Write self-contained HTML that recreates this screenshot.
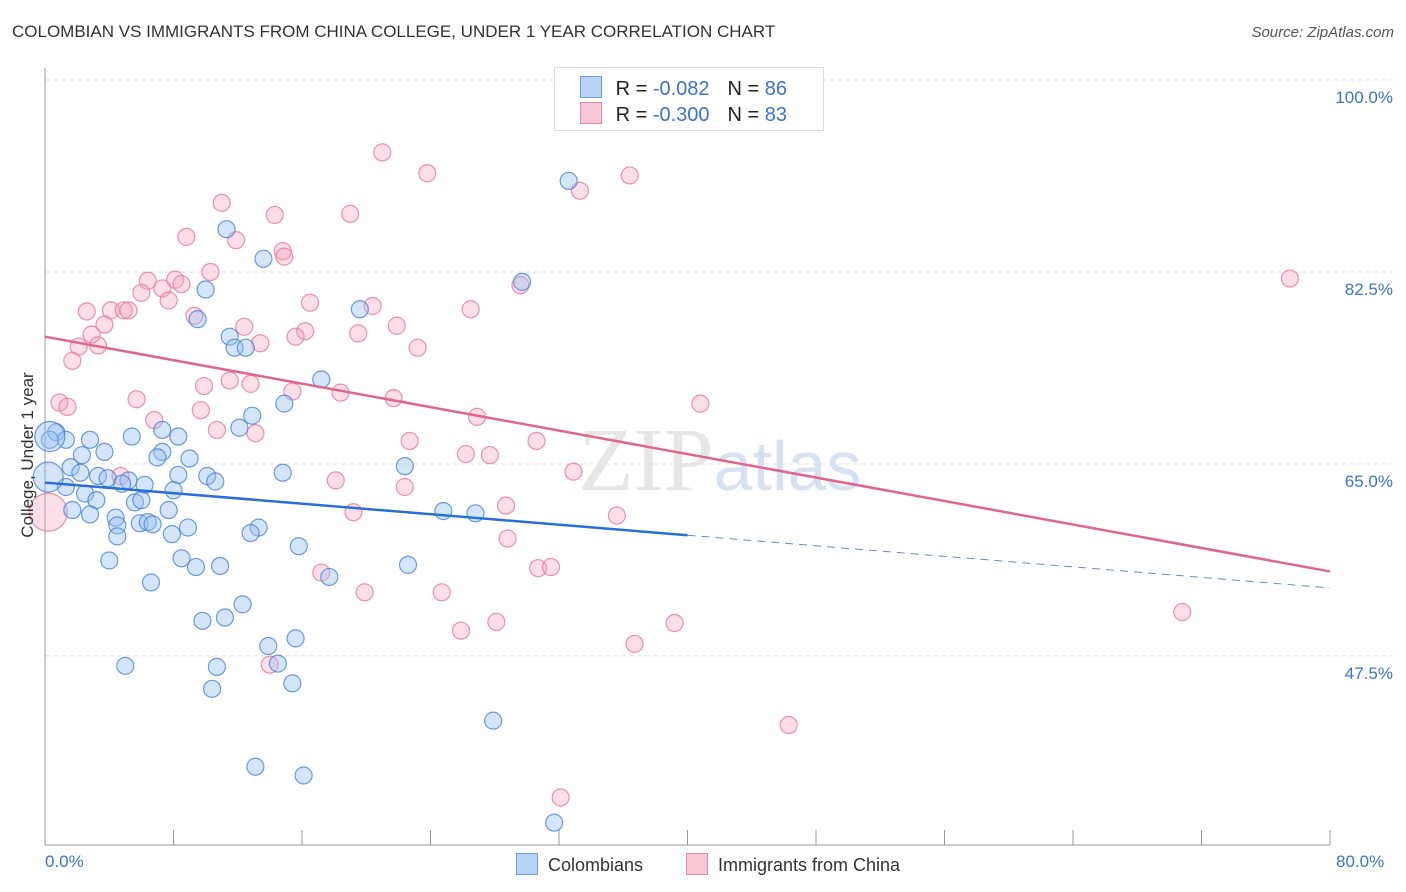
<!DOCTYPE html>
<html><head><meta charset="utf-8">
<style>
body{margin:0;background:#fff;font-family:"Liberation Sans",sans-serif;}
#wrap{position:relative;width:1406px;height:892px;overflow:hidden;}
.t{position:absolute;white-space:nowrap;}
</style></head>
<body>
<div id="wrap">
<div class="t" style="left:12px;top:22px;font-size:17px;color:#333;">COLOMBIAN VS IMMIGRANTS FROM CHINA COLLEGE, UNDER 1 YEAR CORRELATION CHART</div>
<div class="t" style="right:12px;top:24px;font-size:15px;color:#555;font-style:italic;">Source: ZipAtlas.com</div>
<svg id="svg" width="1406" height="892" style="position:absolute;left:0;top:0"></svg>
</div>
<script>
const blueX=[32.6,11.3,13.6,29.7,10.0,19.6,9.5,11.5,11.8,12.5,17.2,14.9,12.9,12.1,5.4,8.3,7.3,0.7,1.3,2.8,0.3,3.7,7.3,7.0,9.0,2.3,22.4,14.8,1.6,2.2,3.3,3.9,5.2,8.3,10.1,10.6,4.8,6.2,8.0,1.3,2.5,3.2,5.6,6.0,1.7,2.8,4.4,7.7,24.8,26.8,4.5,5.9,6.4,6.7,8.9,13.3,12.8,4.5,7.9,15.8,4.0,8.5,9.4,10.9,22.6,17.7,6.6,12.3,11.2,9.8,15.6,13.9,14.5,5.0,10.7,15.4,10.4,27.9,13.1,16.1,31.7,0.2,0.3];
const blueY=[90.8,86.4,83.7,81.6,80.9,79.1,78.2,76.6,75.6,75.6,72.7,70.5,69.4,68.3,67.5,67.5,68.1,67.9,67.2,67.2,67.2,66.1,66.1,65.6,65.5,65.8,64.8,64.2,64.7,64.2,63.9,63.7,63.5,64.0,63.9,63.4,63.2,63.1,62.6,62.9,62.3,61.7,61.5,61.7,60.8,60.4,60.1,60.8,60.7,60.5,59.4,59.6,59.7,59.5,59.2,59.2,58.7,58.4,58.6,57.5,56.2,56.4,55.6,55.7,55.8,54.7,54.2,52.2,51.0,50.7,49.1,48.4,46.8,46.6,46.5,45.0,44.5,41.6,37.4,36.6,32.3,63.8,67.5];
const pinkX=[21.0,23.8,36.4,33.3,11.0,14.3,19.0,8.8,11.9,14.8,14.9,10.3,6.4,8.1,6.0,7.3,8.5,77.5,29.6,7.7,16.5,20.4,26.5,2.6,4.1,4.9,5.2,9.3,3.7,12.4,21.9,19.5,16.2,15.6,2.9,13.4,3.3,2.1,23.2,1.7,11.5,9.9,12.8,15.4,18.4,21.7,5.7,0.9,1.4,9.7,40.8,6.8,26.9,10.7,13.1,22.7,30.6,26.2,27.7,32.9,4.7,18.1,22.4,28.7,19.2,35.6,28.8,17.2,30.7,31.5,19.9,24.7,25.9,28.1,39.2,36.7,14.0,70.8,46.3,32.1,0.2];
const pinkY=[93.4,91.5,91.3,89.9,88.8,87.7,87.8,85.7,85.4,84.4,83.9,82.5,81.7,81.8,80.6,81.0,81.4,81.9,81.3,79.9,79.7,79.4,79.1,78.9,79.0,79.0,79.0,78.5,77.7,77.5,77.6,76.9,77.1,76.6,76.8,76.0,75.8,75.7,75.6,74.4,72.6,72.1,72.3,71.6,71.5,71.0,70.9,70.6,70.2,69.9,70.5,69.0,69.3,68.1,67.8,67.1,67.1,65.9,65.8,64.3,63.9,63.5,62.9,61.2,60.6,60.3,58.2,55.1,55.5,55.6,53.3,53.3,49.8,50.6,50.5,48.6,46.7,51.5,41.2,34.6,60.6];
const blueTrend=[63.3,53.7]; // y at x=0 and x=80
const blueSolidEnd=40;
const pinkTrend=[76.6,55.2];
const yTicks=[47.5,65.0,82.5,100.0];
const xTickCount=10;

const svg=document.getElementById('svg');
const NS='http://www.w3.org/2000/svg';
const X=v=>45+v/80*1285;
const Y=v=>80+(100-v)*10.97;
function mk(tag,attrs,parent){const e=document.createElementNS(NS,tag);for(const k in attrs)e.setAttribute(k,attrs[k]);(parent||svg).appendChild(e);return e;}

// gridlines
yTicks.forEach(t=>{
  const l=mk('line',{x1:45,x2:1393,y1:Y(t),y2:Y(t),stroke:'#ddd','stroke-dasharray':'4,4'});
  
  
  const tx=mk('text',{x:1393,y:Y(t)+23,'text-anchor':'end',fill:'#3b73d4','font-size':17,'font-family':'Liberation Sans, sans-serif'});
  tx.textContent=t.toFixed(1)+'%';
  
  
});
// axes
const ax=mk('line',{x1:45,x2:45,y1:68,y2:845,stroke:'#999'});


const axx=mk('line',{x1:45,x2:1330,y1:845,y2:845,stroke:'#999'});


for(let i=0;i<=xTickCount;i++){
  const tk=mk('line',{x1:X(i*8),x2:X(i*8),y1:830,y2:845,stroke:'#999'});
  
  
}
// watermark
const wm=mk('text',{x:720,y:490,'text-anchor':'middle','font-size':90,fill:'#e6e6e6','font-family':'Liberation Serif, serif'});
wm.innerHTML='ZIP<tspan fill="#d6e2f3" font-family="Liberation Sans, sans-serif" font-size="70">atlas</tspan>';



function pts(xs,ys,fill,stroke,name){
  xs.forEach((x,i)=>{
    const big=(i>=xs.length-2&&name==='colombian-point')||(i===xs.length-1&&name==='china-point');
    const c=mk('circle',{cx:X(x),cy:Y(ys[i]),r:big?(name==='china-point'?19:15):8.5,fill:fill,stroke:stroke,'stroke-width':1.2});
    
    
  });
}
pts(pinkX,pinkY,'rgba(244,160,185,0.35)','rgba(230,120,155,0.8)','china-point');
pts(blueX,blueY,'rgba(150,190,240,0.4)','rgba(70,130,220,0.8)','colombian-point');

// trends
const bAt=x=>blueTrend[0]+(blueTrend[1]-blueTrend[0])*x/80;
const bl=mk('line',{x1:X(0),y1:Y(bAt(0)),x2:X(blueSolidEnd),y2:Y(bAt(blueSolidEnd)),stroke:'#2a6fd6','stroke-width':2.5});


const bd=mk('line',{x1:X(blueSolidEnd),y1:Y(bAt(blueSolidEnd)),x2:X(80),y2:Y(bAt(80)),stroke:'#5b8fd9','stroke-width':1,'stroke-dasharray':'8,6'});


const pl=mk('line',{x1:X(0),y1:Y(pinkTrend[0]),x2:X(80),y2:Y(pinkTrend[1]),stroke:'#e0668e','stroke-width':2.5});


</script>
<!-- legend box -->
<div style="position:absolute;left:554px;top:67px;width:268px;height:62px;border:1px solid #ddd;background:#fff;font-size:20px;">
  <div style="position:absolute;left:25px;top:8px;white-space:nowrap;">
    <span style="display:inline-block;width:20px;height:20px;background:#b8d3f5;border:1px solid #6f9fe0;vertical-align:-3px;"></span>
    <span style="color:#222;margin-left:8px;">R = </span><span style="color:#3b73d4;">-0.082</span><span style="color:#222;margin-left:18px;">N = </span><span style="color:#3b73d4;">86</span>
  </div>
  <div style="position:absolute;left:25px;top:34px;white-space:nowrap;">
    <span style="display:inline-block;width:20px;height:20px;background:#f9c6d6;border:1px solid #e58aa8;vertical-align:-3px;"></span>
    <span style="color:#222;margin-left:8px;">R = </span><span style="color:#3b73d4;">-0.300</span><span style="color:#222;margin-left:18px;">N = </span><span style="color:#3b73d4;">83</span>
  </div>
</div>
<div class="t" style="left:28px;top:455px;font-size:17px;color:#333;transform:translate(-50%,-50%) rotate(-90deg);">College, Under 1 year</div>
<div class="t" style="left:45px;top:852px;font-size:17px;color:#3b73d4;">0.0%</div>
<div class="t" style="left:1336px;top:852px;font-size:17px;color:#3b73d4;">80.0%</div>
<div class="t" style="left:516px;top:853px;font-size:18px;color:#333;"><span style="display:inline-block;width:20px;height:20px;background:#b8d3f5;border:1px solid #6f9fe0;vertical-align:-4px;margin-right:10px;"></span>Colombians</div>
<div class="t" style="left:686px;top:853px;font-size:18px;color:#333;"><span style="display:inline-block;width:20px;height:20px;background:#f9c6d6;border:1px solid #e58aa8;vertical-align:-4px;margin-right:10px;"></span>Immigrants from China</div>
</body></html>
